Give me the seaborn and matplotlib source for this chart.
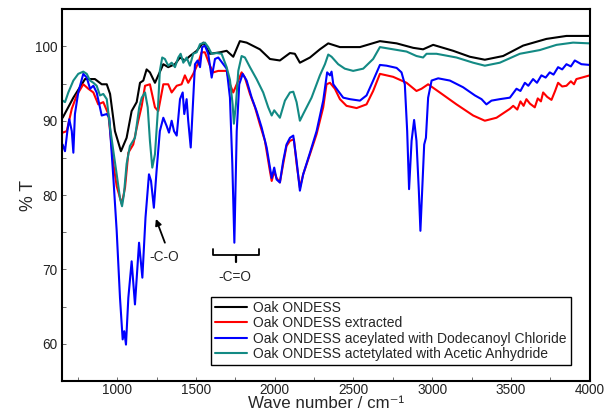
import numpy as np
import pandas as pd
import seaborn as sns
import matplotlib.pyplot as plt

# wave numbers (cm-1) and %T
wn_oak = [654, 722, 796, 859, 902, 934, 955, 986, 1024, 1060, 1092, 1124, 1145, 1166, 1187, 1208,
          1240, 1293, 1324, 1367, 1399, 1430, 1462, 1505, 1547, 1589, 1653, 1695, 1737, 1779, 1822,
          1906, 1970, 2033, 2097, 2128, 2160, 2224, 2287, 2340, 2414, 2541, 2668, 2774, 2879, 2942,
          3006, 3133, 3239, 3334, 3450, 3577, 3725, 3852, 4000]
t_oak = [90.4, 93.1, 95.6, 95.6, 94.9, 94.9, 93.6, 88.6, 85.9, 87.7, 91.3, 92.5, 95.1, 95.4, 96.9, 96.5,
         95.1, 97.6, 97.2, 97.6, 98.5, 98.1, 98.7, 99.4, 100.5, 99.0, 99.2, 99.4, 98.6, 100.7, 100.5,
         99.6, 98.3, 98.1, 99.1, 99.0, 97.8, 98.5, 99.6, 100.4, 99.9, 99.9, 100.7, 100.4, 99.8, 99.6,
         100.2, 99.4, 98.6, 98.2, 98.7, 100.1, 101.0, 101.4, 101.4]

wn_ext = [654, 680, 712, 743, 785, 817, 849, 880, 912, 944, 976, 997, 1029, 1050, 1071, 1102, 1134,
          1156, 1177, 1208, 1240, 1261, 1293, 1324, 1346, 1378, 1409, 1430, 1451, 1483, 1515, 1536,
          1557, 1589, 1610, 1642, 1695, 1716, 1737, 1769, 1790, 1811, 1843, 1875, 1906, 1938, 1970,
          1981, 1997, 2012, 2033, 2054, 2075, 2097, 2122, 2139, 2160, 2181, 2224, 2266, 2308, 2329,
          2351, 2382, 2414, 2456, 2520, 2583, 2625, 2668, 2752, 2837, 2900, 2932, 2974, 3048, 3154,
          3260, 3334, 3408, 3493, 3514, 3540, 3560, 3580, 3598, 3620, 3651, 3670, 3690, 3704, 3730,
          3757, 3780, 3799, 3825, 3852, 3880, 3900, 3915, 3950, 4000]
t_ext = [88.4, 88.6, 91.6, 93.4, 94.9, 94.3, 93.8, 92.2, 92.5, 90.9, 84.2, 81.2, 78.8, 81.0, 85.7, 86.8, 90.0,
         92.0, 94.7, 94.9, 91.8, 91.3, 94.9, 94.9, 93.8, 94.7, 94.9, 96.1, 95.1, 96.3, 97.8, 99.2,
         99.2, 97.4, 96.5, 96.7, 96.7, 94.9, 93.8, 95.4, 96.5, 95.8, 93.6, 91.8, 89.5, 87.3, 83.2,
         81.9, 83.2, 82.3, 81.7, 84.2, 86.6, 87.3, 87.5, 84.2, 81.0, 82.8, 85.5, 88.2, 91.8, 94.9,
         95.1, 94.3, 92.9, 92.0, 91.7, 92.2, 94.0, 96.3, 95.9, 95.1, 94.0, 94.3, 94.9, 93.8, 92.2,
         90.7, 90.0, 90.4, 91.6, 92.0, 91.5, 92.6, 92.0, 92.9, 92.3, 91.8, 93.0, 92.6, 93.8, 93.2,
         92.8, 94.0, 95.1, 94.6, 94.7, 95.3, 94.9, 95.6, 95.8, 96.1]

wn_dod = [654, 669, 684, 696, 712, 722, 732, 753, 785, 807, 828, 849, 870, 891, 902, 934, 950, 976,
          997, 1018, 1035, 1045, 1056, 1071, 1092, 1113, 1139, 1160, 1180, 1202, 1215, 1233, 1250,
          1271, 1293, 1314, 1329, 1346, 1361, 1378, 1399, 1416, 1426, 1441, 1451, 1467, 1483, 1494,
          1511, 1526, 1540, 1557, 1578, 1600, 1621, 1642, 1674, 1695, 1716, 1731, 1744, 1759, 1775,
          1797, 1822, 1854, 1885, 1917, 1949, 1970, 1981, 1997, 2012, 2033, 2054, 2075, 2097, 2118,
          2139, 2160, 2181, 2224, 2266, 2308, 2333, 2351, 2361, 2372, 2403, 2435, 2477, 2541, 2583,
          2625, 2668, 2710, 2774, 2805, 2826, 2841, 2853, 2869, 2885, 2900, 2915, 2925, 2939, 2949,
          2960, 2974, 2996, 3038, 3112, 3196, 3271, 3313, 3344, 3376, 3429, 3493, 3535, 3560, 3588,
          3610, 3640, 3665, 3693, 3720, 3746, 3770, 3799, 3825, 3852, 3880, 3905, 3947, 4000]
t_dod = [86.8, 85.9, 88.6, 90.2, 88.6, 85.7, 90.9, 93.8, 96.3, 95.8, 94.3, 94.7, 93.8, 91.8, 90.7, 90.9, 90.4, 82.3,
         75.2, 66.2, 60.6, 61.7, 59.9, 66.2, 71.1, 65.3, 73.6, 68.9, 77.0, 82.8, 81.9, 78.3, 83.2,
         88.6, 90.4, 89.3, 88.4, 90.0, 88.6, 88.0, 92.9, 93.8, 90.9, 92.9, 90.0, 86.4, 93.1, 97.6,
         98.1, 97.2, 99.9, 100.1, 99.0, 95.8, 98.3, 98.5, 97.6, 97.0, 93.1, 84.2, 73.6, 88.6, 94.9,
         96.3, 95.4, 93.1, 91.3, 89.1, 86.4, 83.7, 82.3, 83.7, 82.1, 81.7, 84.6, 86.8, 87.7, 88.0,
         84.6, 80.6, 82.8, 85.7, 88.6, 92.7, 96.5, 96.1, 96.6, 94.9, 94.0, 93.1, 92.9, 92.7, 93.4,
         95.4, 97.5, 97.4, 97.1, 96.5, 94.9, 88.6, 80.8, 87.3, 90.1, 87.3, 80.6, 75.2, 81.9, 86.8,
         87.7, 93.1, 95.4, 95.7, 95.4, 94.5, 93.4, 92.9, 92.2, 92.7, 92.9, 93.1, 94.3, 94.0, 95.1,
         94.7, 95.6, 95.1, 96.1, 95.8, 96.5, 96.2, 97.2, 96.9, 97.6, 97.3, 98.1, 97.6, 97.5]

wn_ace = [654, 669, 690, 722, 753, 785, 807, 828, 849, 870, 891, 912, 934, 955, 976, 997, 1018, 1031,
          1043, 1060, 1081, 1113, 1140, 1156, 1177, 1194, 1208, 1223, 1240, 1257, 1271, 1286, 1303,
          1324, 1346, 1367, 1388, 1403, 1420, 1441, 1462, 1483, 1505, 1526, 1557, 1578, 1600, 1632,
          1663, 1695, 1716, 1733, 1741, 1754, 1769, 1790, 1811, 1843, 1885, 1927, 1959, 1981, 1997,
          2033, 2065, 2097, 2118, 2139, 2160, 2181, 2234, 2287, 2319, 2340, 2361, 2403, 2445, 2498,
          2562, 2625, 2668, 2752, 2837, 2900, 2942, 2964, 3027, 3154, 3260, 3334, 3429, 3556, 3683,
          3789, 3894, 4000]
t_ace = [92.7, 92.5, 93.8, 95.4, 96.3, 96.6, 96.3, 95.4, 95.1, 94.7, 93.4, 93.6, 92.9, 89.1, 85.9, 82.8, 79.6, 78.5,
         80.1, 84.2, 86.6, 87.7, 91.8, 93.1, 93.8, 91.8, 87.3, 83.7, 85.5, 90.9, 96.7, 98.5, 98.3,
         97.4, 97.8, 97.2, 98.5, 99.0, 97.8, 98.5, 97.4, 99.0, 99.2, 100.3, 100.5, 99.9, 99.0, 99.1,
         99.0, 97.2, 95.5, 92.2, 89.6, 92.2, 96.7, 98.7, 98.5, 97.2, 95.6, 93.8, 91.8, 90.7, 91.4,
         90.4, 92.7, 93.8, 93.9, 92.5, 90.0, 90.9, 93.1, 96.1, 97.6, 98.9, 98.6, 97.6, 97.0, 96.7,
         97.0, 98.3, 99.9, 99.6, 99.3, 98.7, 98.5, 99.0, 99.0, 98.5, 97.8, 97.4, 97.8, 99.0, 99.5,
         100.2, 100.5, 100.4]

labels = ["Oak ONDESS",
          "Oak ONDESS extracted",
          "Oak ONDESS aceylated with Dodecanoyl Chloride",
          "Oak ONDESS actetylated with Acetic Anhydride"]
colors = ["black", "#ff0000", "#0000ff", "#138a84"]

frames = []
for lab, x, y in zip(labels, [wn_oak, wn_ext, wn_dod, wn_ace], [t_oak, t_ext, t_dod, t_ace]):
    frames.append(pd.DataFrame({"wn": x, "T": y, "sample": lab}))
df = pd.concat(frames, ignore_index=True)

sns.set_theme(style="ticks")
plt.rcParams["font.family"] = ["Liberation Sans", "DejaVu Sans"]

fig = plt.figure(figsize=(6.08, 4.16), dpi=100)
ax = fig.add_axes([0.102, 0.084, 0.868, 0.894])

sns.lineplot(data=df, x="wn", y="T", hue="sample", palette=colors, hue_order=labels,
             estimator=None, sort=False, linewidth=1.5, ax=ax)

ax.set_xlim(650, 4000)
ax.set_ylim(55, 105)
ax.set_xticks([1000, 1500, 2000, 2500, 3000, 3500, 4000])
ax.set_xticks(np.arange(750, 4000, 250), minor=True)
ax.set_yticks([60, 70, 80, 90, 100])
ax.set_yticks(np.arange(55, 105, 5), minor=True)
ax.tick_params(which="both", direction="in", length=3, width=0.6, color="#555555",
               labelsize=9.8, labelcolor="#222222", pad=3)
ax.tick_params(axis="x", pad=1.5)
for s in ax.spines.values():
    s.set_color("black")
    s.set_linewidth(1.5)

ax.set_xlabel("Wave number / cm\u207b\u00b9", fontsize=12.2, labelpad=-1)
ax.set_ylabel("% T", fontsize=12.8)
ax.yaxis.set_label_coords(-0.047, 0.5)

# -C-O arrow
ax.annotate("", xy=(1246, 76.8), xytext=(1303, 73.6),
            arrowprops=dict(arrowstyle="-|>", color="black", lw=1.3, mutation_scale=9,
                            shrinkA=0, shrinkB=0))
ax.text(1299, 71.7, "-C-O", ha="center", va="center", fontsize=9.8)
# -C=O bracket
bx0, bx1, bmid = 1610, 1900, 1754
ax.plot([bx0, bx0, bx1, bx1], [72.7, 71.9, 71.9, 72.7], color="black", lw=1.3)
ax.plot([bmid, bmid], [71.9, 71.0], color="black", lw=1.6)
ax.text(1748, 69.0, "-C=O", ha="center", va="center", fontsize=9.8)

leg = ax.legend(loc="lower left", bbox_to_anchor=(0.282, 0.043), borderaxespad=0,
                fontsize=10, labelspacing=0.1, handlelength=2.3, handletextpad=0.45,
                borderpad=0.3, fancybox=False, framealpha=1, edgecolor="black", title=None)
leg.get_frame().set_linewidth(1.0)

fig.savefig("out.png", dpi=100)
